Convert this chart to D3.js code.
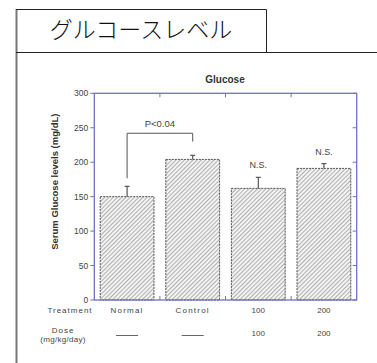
<!DOCTYPE html>
<html>
<head>
<meta charset="utf-8">
<script src="https://cdn.jsdelivr.net/npm/d3@7"></script>
<style>
  html, body { margin: 0; padding: 0; background: #fff; }
  svg { display: block; }
</style>
</head>
<body>
<svg id="chart" width="377" height="363"></svg>
<script>
// Serum glucose by treatment group
const categories = ["Normal", "Control", "100", "200"];
const doseLabels = ["——", "——", "100", "200"];
const means = [150, 204, 162, 191];
const errTops = [165, 210, 178, 198];
const marks = ["", "", "N.S.", "N.S."];
const yTicks = [0, 50, 100, 150, 200, 250, 300];

const svg = d3.select("#chart");
const ink = "#444";
const axisColor = "#7070c8";

// Slide frame: header box with the Japanese heading, and page rules
svg.append("line").attr("x1", 16.5).attr("x2", 16.5).attr("y1", 9).attr("y2", 363)
  .attr("stroke", "#777").attr("stroke-width", 2);
svg.append("path").attr("d", "M16,9.5H266.5V52.5")
  .attr("fill", "none").attr("stroke", "#222").attr("stroke-width", 1);
svg.append("line").attr("x1", 16).attr("x2", 377).attr("y1", 52.5).attr("y2", 52.5)
  .attr("stroke", "#222").attr("stroke-width", 1);
svg.append("text").attr("x", 141).attr("y", 38).attr("text-anchor", "middle")
  .attr("font-family", "'Noto Sans CJK JP'").attr("font-weight", 300)
  .attr("font-size", 23).attr("fill", "#111").text("グルコースレベル");

// Plot area
const m = { left: 94.3, right: 356.7, top: 93.3, bottom: 300 };
const x = d3.scaleBand().domain(categories).range([m.left, m.right]).paddingInner(0.18).paddingOuter(0.09);
const y = d3.scaleLinear().domain([0, 300]).range([m.bottom, m.top]);

// Hatch fill for bars
const defs = svg.append("defs");
const pat = defs.append("pattern").attr("id", "hatch").attr("patternUnits", "userSpaceOnUse")
  .attr("width", 3).attr("height", 3).attr("patternTransform", "rotate(-45)");
pat.append("rect").attr("width", 3).attr("height", 3).attr("fill", "#f6f6f6");
pat.append("line").attr("x1", 0).attr("x2", 3).attr("y1", 0.6).attr("y2", 0.6)
  .attr("stroke", "#a0a0a0").attr("stroke-width", 0.9);

// Bars
svg.selectAll("rect.bar").data(categories).enter().append("rect")
  .attr("class", "bar")
  .attr("x", d => x(d))
  .attr("width", x.bandwidth())
  .attr("y", (d, i) => y(means[i]))
  .attr("height", (d, i) => y(0) - y(means[i]))
  .attr("fill", "url(#hatch)")
  .attr("stroke", "#555").attr("stroke-width", 1).attr("stroke-dasharray", "2,1");

// Error bars (upper only)
categories.forEach((c, i) => {
  const cx = x(c) + x.bandwidth() / 2;
  svg.append("line").attr("x1", cx).attr("x2", cx).attr("y1", y(means[i])).attr("y2", y(errTops[i]))
    .attr("stroke", "#555").attr("stroke-width", 1.2);
  svg.append("line").attr("x1", cx - 2.5).attr("x2", cx + 2.5).attr("y1", y(errTops[i])).attr("y2", y(errTops[i]))
    .attr("stroke", "#555").attr("stroke-width", 1.2);
  if (marks[i]) {
    svg.append("text").attr("x", cx).attr("y", y(errTops[i]) - 9).attr("text-anchor", "middle")
      .attr("font-family", "'Liberation Sans', Arial").attr("font-size", 9).attr("fill", ink).text(marks[i]);
  }
});

// Significance bracket between Normal and Control
const bx1 = x(categories[0]) + x.bandwidth() / 2;
const bx2 = x(categories[1]) + x.bandwidth() / 2;
const by = y(242);
svg.append("path")
  .attr("d", `M${bx1},${y(errTops[0]) - 8}V${by}H${bx2}V${y(230)}`)
  .attr("fill", "none").attr("stroke", "#555").attr("stroke-width", 1);
svg.append("text").attr("x", (bx1 + bx2) / 2).attr("y", by - 6).attr("text-anchor", "middle")
  .attr("font-family", "'Liberation Sans', Arial").attr("font-size", 9.5).attr("fill", ink).text("P<0.04");

// Axes: frame with ticks
const gAx = svg.append("g").attr("stroke", axisColor).attr("fill", "none");
gAx.append("rect").attr("x", m.left).attr("y", m.top).attr("width", m.right - m.left).attr("height", m.bottom - m.top)
  .attr("stroke-width", 1.3);
// Left ticks (outward)
yTicks.forEach(t => {
  gAx.append("line").attr("x1", m.left - 4).attr("x2", m.left).attr("y1", y(t)).attr("y2", y(t));
});
// Right ticks (inward)
yTicks.forEach(t => {
  gAx.append("line").attr("x1", m.right - 4).attr("x2", m.right).attr("y1", y(t)).attr("y2", y(t));
});
// Top & bottom ticks at band boundaries (inward)
categories.slice(1).forEach(c => {
  const bx = x(c) - x.step() * x.paddingInner() / 2;
  gAx.append("line").attr("x1", bx).attr("x2", bx).attr("y1", m.top).attr("y2", m.top + 4);
  gAx.append("line").attr("x1", bx).attr("x2", bx).attr("y1", m.bottom).attr("y2", m.bottom - 4);
});

// Y tick labels
svg.selectAll("text.ytick").data(yTicks).enter().append("text")
  .attr("class", "ytick")
  .attr("x", m.left - 6).attr("y", d => y(d) + 3)
  .attr("text-anchor", "end")
  .attr("font-family", "'Liberation Sans', Arial").attr("font-size", 8.5).attr("fill", ink)
  .text(d => d);

// Chart title
svg.append("text").attr("x", 225).attr("y", 83).attr("text-anchor", "middle")
  .attr("font-family", "'Liberation Sans', Arial").attr("font-weight", "bold")
  .attr("font-size", 10).attr("fill", "#333").text("Glucose");

// Y axis title
svg.append("text").attr("transform", `translate(58,${(m.top + m.bottom) / 2 - 15}) rotate(-90)`)
  .attr("text-anchor", "middle")
  .attr("font-family", "'Liberation Sans', Arial").attr("font-weight", "bold")
  .attr("font-size", 9.5).attr("fill", "#333").text("Serum Glucose levels (mg/dL)");

// Treatment row
const rowFont = "'Liberation Sans', Arial";
svg.append("text").attr("x", 70).attr("y", 313).attr("text-anchor", "middle")
  .attr("font-family", rowFont).attr("font-size", 8).attr("letter-spacing", 1).attr("fill", ink).text("Treatment");
svg.selectAll("text.cat").data(categories).enter().append("text")
  .attr("class", "cat")
  .attr("x", d => x(d) + x.bandwidth() / 2).attr("y", 313)
  .attr("text-anchor", "middle")
  .attr("font-family", rowFont).attr("font-size", 8)
  .attr("letter-spacing", (d, i) => i < 2 ? 1.2 : 0).attr("fill", ink)
  .text(d => d);

// Dose row
svg.append("text").attr("x", 63).attr("y", 333).attr("text-anchor", "middle")
  .attr("font-family", rowFont).attr("font-size", 8).attr("letter-spacing", 1).attr("fill", ink).text("Dose");
svg.append("text").attr("x", 63).attr("y", 342).attr("text-anchor", "middle")
  .attr("font-family", rowFont).attr("font-size", 8).attr("letter-spacing", 0.3).attr("fill", ink).text("(mg/kg/day)");
svg.selectAll("g.dose").data(doseLabels).enter().append("g")
  .attr("class", "dose")
  .each(function(d, i) {
    const cx = x(categories[i]) + x.bandwidth() / 2;
    const g = d3.select(this);
    if (d === "——") {
      g.append("line").attr("x1", cx - 11).attr("x2", cx + 11).attr("y1", 335.5).attr("y2", 335.5)
        .attr("stroke", "#666").attr("stroke-width", 1);
    } else {
      g.append("text").attr("x", cx).attr("y", 336).attr("text-anchor", "middle")
        .attr("font-family", rowFont).attr("font-size", 8).attr("fill", ink).text(d);
    }
  });
</script>
</body>
</html>
